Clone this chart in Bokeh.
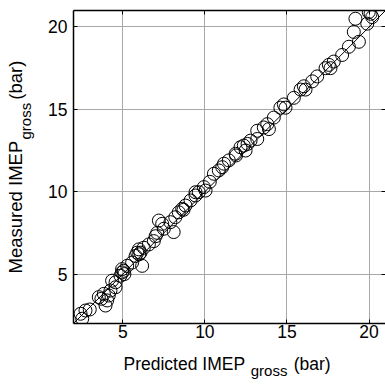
from bokeh.plotting import figure
from bokeh.models import Range1d, LinearAxis, FixedTicker
from bokeh.embed import file_html
from bokeh.resources import INLINE

predicted = [2.53, 2.43, 2.73, 2.99, 3.54, 3.85, 3.95, 4.05, 4.15, 4.25, 4.56, 4.56, 4.35,
             4.86, 4.96, 5.06, 4.96, 5.27, 5.57, 5.78, 5.88, 5.98, 6.08, 6.18, 6.28, 6.59,
             6.89, 7.0, 7.1, 7.2, 7.4, 7.5, 8.1, 7.9, 8.2, 8.41, 8.62, 8.82, 9.13, 9.43,
             9.63, 9.43, 9.94, 10.04, 10.3, 10.55, 10.85, 11.06, 11.16, 11.46, 11.87, 12.17,
             12.37, 12.48, 12.78, 13.19, 13.19, 13.59, 13.8, 13.9, 14.2, 14.6, 14.81, 14.91,
             15.42, 15.83, 16.03, 16.13, 16.54, 16.84, 17.35, 17.55, 17.65, 17.85, 18.36,
             18.77, 19.38, 19.07, 19.17, 19.89, 20.09, 20.19, 19.98, 3.7, 5.1, 6.0, 8.7,
             11.9, 12.6]
measured = [2.29, 2.59, 2.79, 2.85, 3.6, 3.8, 3.09, 3.4, 3.7, 4.0, 4.2, 4.5, 4.6,
            4.9, 5.1, 5.2, 5.3, 5.5, 5.7, 6.1, 6.3, 6.5, 6.3, 5.5, 6.6, 6.8,
            7.0, 7.3, 7.5, 8.25, 8.05, 7.75, 7.55, 8.15, 8.45, 8.75, 8.96, 9.16, 9.47, 9.77,
            9.97, 9.97, 10.28, 10.07, 10.6, 11.09, 11.29, 11.49, 11.7, 11.9, 12.3, 12.7,
            12.8, 12.5, 13.1, 13.2, 13.7, 13.9, 14.1, 13.8, 14.5, 15.1, 15.3, 15.1,
            15.7, 16.2, 16.4, 16.2, 16.7, 17.0, 17.5, 17.7, 17.5, 17.9, 18.3,
            18.8, 19.1, 19.7, 20.5, 20.2, 20.8, 20.6, 20.9, 3.5, 5.0, 6.2, 8.9,
            12.2, 12.9]
axis_min, axis_max = 2, 21
ticks = [5, 10, 15, 20]

x_main, x_sub, x_unit = "Predicted IMEP", "gross", "(bar)"
y_main, y_sub, y_unit = "Measured IMEP", "gross", "(bar)"

FONT = "Liberation Sans"
FS = "17.5px"
FS_Y = "18.5px"
SUB = "15px"
NB = "\u00a0"

p = figure(frame_width=312, frame_height=313, output_backend="svg", toolbar_location=None,
           x_range=Range1d(axis_min, axis_max), y_range=Range1d(axis_min, axis_max),
           min_border_left=73, min_border_right=0, min_border_top=10, min_border_bottom=62,
           x_axis_location=None, y_axis_location=None)
p.outline_line_color = None
p.background_fill_color = "white"
p.border_fill_color = "white"

def base_axis(labels=True):
    ax = LinearAxis()
    ax.ticker = FixedTicker(ticks=ticks)
    ax.axis_line_color = "black"
    ax.axis_line_width = 1.5
    ax.major_tick_in = 4
    ax.major_tick_out = 0
    ax.minor_tick_line_color = None
    ax.major_tick_line_color = "black"
    ax.major_label_text_font = FONT
    ax.major_label_text_font_size = FS
    ax.major_label_text_color = "black"
    ax.axis_label_text_font = FONT
    ax.axis_label_text_font_style = "normal"
    ax.axis_label_text_color = "black"
    if not labels:
        ax.major_label_text_font_size = "0px"
        ax.major_label_text_color = None
        ax.major_label_standoff = 0
    return ax

def label_axis(text, size, standoff):
    ax = LinearAxis()
    ax.ticker = FixedTicker(ticks=[])
    ax.axis_line_color = None
    ax.major_tick_line_color = None
    ax.minor_tick_line_color = None
    ax.major_label_text_font_size = "0px"
    ax.major_label_text_color = None
    ax.major_label_standoff = 0
    ax.axis_label = text
    ax.axis_label_text_font = FONT
    ax.axis_label_text_font_style = "normal"
    ax.axis_label_text_font_size = size
    ax.axis_label_text_color = "black"
    ax.axis_label_standoff = standoff
    return ax

# bottom: ticks + main label, then subscript
bx = base_axis()
bx.major_label_standoff = 1
bx.axis_label = x_main + NB * 10 + x_unit + NB
bx.axis_label_text_font_size = FS
bx.axis_label_standoff = 13
p.add_layout(bx, "below")
p.add_layout(label_axis(NB * 19 + x_sub, SUB, -15), "below")

# left: ticks + subscript (inner), then main label (outer)
ly = base_axis()
ly.major_label_standoff = 6
ly.axis_label = NB * 22 + y_sub
ly.axis_label_text_font_size = SUB
ly.axis_label_standoff = 11
p.add_layout(ly, "left")
p.add_layout(label_axis(y_main + NB * 8 + y_unit, FS_Y, -11), "left")

# inward ticks on the top edge (with the top frame line) and on the right edge
p.add_layout(base_axis(labels=False), "above")
rx = base_axis(labels=False)
rx.axis_line_color = None
p.add_layout(rx, "right")

p.xgrid.ticker = FixedTicker(ticks=ticks)
p.ygrid.ticker = FixedTicker(ticks=ticks)
for g in (p.xgrid, p.ygrid):
    g.grid_line_color = "#a8a8a8"
    g.grid_line_width = 1

p.line([axis_min, axis_max], [axis_min, axis_max], line_color="black", line_width=1)
p.scatter(predicted, measured, marker="circle", size=13, fill_color=None,
          line_color="black", line_width=1)

open("out.html", "w").write(file_html(p, INLINE))
